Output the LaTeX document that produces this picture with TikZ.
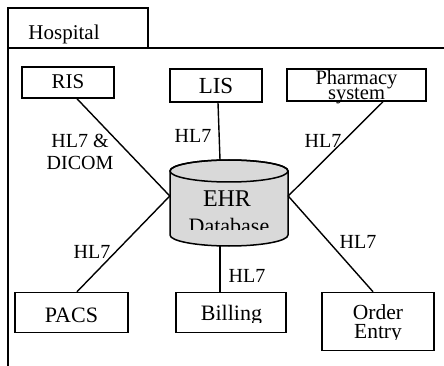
\documentclass[tikz,border=0pt]{standalone}
\usepackage{fontspec}
\setmainfont{Liberation Serif}
\usetikzlibrary{calc}
\newcommand\fsz[1]{\fontsize{#1}{#1}\selectfont}
\begin{document}
\begin{tikzpicture}[x=1pt,y=-1pt,
  frame/.style={line width=1.5pt},
  box/.style={draw, line width=1.5pt, inner sep=0pt},
  conn/.style={line width=1.4pt},
  txt/.style={anchor=base, inner sep=0pt, font=\fsz{22}, align=center},
  lbl/.style={anchor=base, inner sep=0pt, font=\fsz{20}, align=center}]
\useasboundingbox (0,0) rectangle (444,366);
% hospital frame
\draw[frame] (8,366) -- (8,8) -- (148,8) -- (148,48);
\draw[frame] (8,48) -- (444,48);
\node[txt, font=\fsz{21}] (hosp) at (64,40) {Hospital};
% boxes
\node[box, minimum width=92pt, minimum height=31pt] (ris) at (68,82.5) {};
\node[txt, font=\fsz{21}] (ristxt) at (68,89) {RIS};
\node[box, minimum width=92pt, minimum height=33pt] (lis) at (216,85.5) {};
\node[txt, font=\fsz{23}] (listxt) at (216,93.5) {LIS};
\node[box, minimum width=139pt, minimum height=32pt] (ph) at (356.5,85) {};
\node[txt, font=\fsz{20.5}] (phtxt) at (356.5,99.5) {Pharmacy\\[-6pt]system};
\node[box, minimum width=113pt, minimum height=40pt] (pacs) at (71.5,312.5) {};
\node[txt] (pacstxt) at (71.5,322) {PACS};
\node[box, minimum width=110pt, minimum height=40pt] (bill) at (231,312.5) {};
\node[box, minimum width=112pt, minimum height=58pt] (ord) at (378,321.5) {};
% database cylinder
\node[minimum width=118pt, minimum height=86pt, inner sep=0pt] (db) at (229,203) {};
\draw[line width=1.5pt, fill=gray!30] (170,171) -- (170,235)
  arc[start angle=180, end angle=0, x radius=59, y radius=11] -- (288,171)
  arc[start angle=0, end angle=-180, x radius=59, y radius=11] -- cycle;
\draw[line width=1.5pt] (229,171) ellipse[x radius=59, y radius=11];
\node[txt, font=\fsz{24}] (ehr) at (227,207) {EHR};
\begin{scope}
  \clip (170,160) rectangle (288,229.5);
  \node[txt, font=\fsz{22}] (dbtxt) at (229,233) {Database};
\end{scope}
\begin{scope}
  \clip (176,292) rectangle (286,322.5);
  \node[txt] (billtxt) at (231.5,320) {Billing};
\end{scope}
\begin{scope}
  \clip (322,292) rectangle (434,339.5);
  \node[txt, font=\fsz{21.5}] (ordtxt) at (378,338) {Order\\[-3pt]Entry};
\end{scope}
% connectors
\draw[conn] ([xshift=9pt]ris.south) -- ($(db.west)+(0,-7)$);
\draw[conn] ([xshift=2pt]lis.south) -- ([xshift=-9pt]db.north);
\draw[conn] ([xshift=26.5pt]ph.south) -- ($(db.east)+(0,-7)$);
\draw[conn] ([xshift=5.5pt]pacs.north) -- ($(db.west)+(0,-7)$);
\draw[conn] ([xshift=-9pt]db.south) -- ([xshift=-11pt]bill.north);
\draw[conn] ([xshift=-5pt]ord.north) -- ($(db.east)+(0,-7)$);
% labels
\node[lbl] (l1) at (80,170) {HL7 \&\\[2pt]DICOM};
\node[lbl] (l2) at (193,143) {HL7};
\node[lbl] (l3) at (323,148) {HL7};
\node[lbl] (l4) at (92,258) {HL7};
\node[lbl] (l5) at (247,282) {HL7};
\node[lbl] (l6) at (358,248) {HL7};
\end{tikzpicture}
\end{document}
